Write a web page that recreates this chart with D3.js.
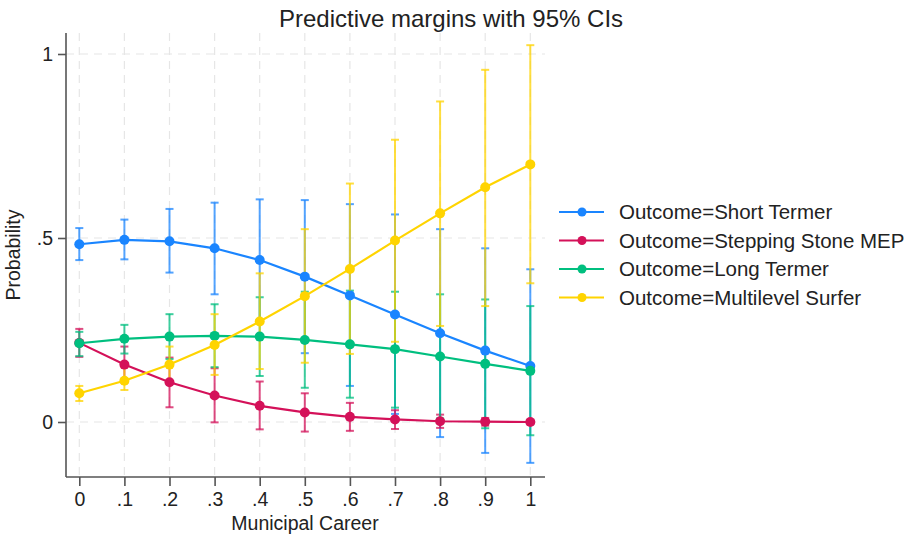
<!DOCTYPE html>
<html>
<head>
<meta charset="utf-8">
<script src="https://cdn.jsdelivr.net/npm/d3@7"></script>
<style>
  body { margin: 0; background: #fff; }
  text { font-family: "Liberation Sans", Arial, sans-serif; fill: #222; }
</style>
</head>
<body>
<div id="chart"></div>
<script>
// x values (Municipal Career)
var xs = [0, .1, .2, .3, .4, .5, .6, .7, .8, .9, 1];
var xTickLabels = ["0", ".1", ".2", ".3", ".4", ".5", ".6", ".7", ".8", ".9", "1"];
var yTicks = [0, .5, 1];
var yTickLabels = ["0", ".5", "1"];

var seriesNames = ["Outcome=Short Termer", "Outcome=Stepping Stone MEP", "Outcome=Long Termer", "Outcome=Multilevel Surfer"];
var seriesColors = ["#1a85ff", "#d41159", "#00bf7f", "#ffd400"];

// point estimates
var shortTermer   = [0.483, 0.495, 0.491, 0.472, 0.440, 0.395, 0.344, 0.292, 0.241, 0.194, 0.152];
var steppingStone = [0.215, 0.156, 0.108, 0.072, 0.044, 0.026, 0.014, 0.007, 0.002, 0.001, 0.000];
var longTermer    = [0.214, 0.226, 0.232, 0.234, 0.232, 0.223, 0.211, 0.198, 0.178, 0.158, 0.139];
var multiSurfer   = [0.078, 0.112, 0.156, 0.209, 0.273, 0.342, 0.416, 0.493, 0.567, 0.638, 0.700];

// 95% CI bounds
var shortLo = [0.440, 0.442, 0.406, 0.347, 0.276, 0.187, 0.098, 0.022, -0.041, -0.084, -0.111];
var shortHi = [0.527, 0.550, 0.579, 0.596, 0.605, 0.603, 0.592, 0.564, 0.524, 0.472, 0.415];
var stepLo  = [0.177, 0.107, 0.040, -0.001, -0.020, -0.026, -0.024, -0.019, -0.016, -0.010, -0.006];
var stepHi  = [0.253, 0.205, 0.175, 0.146, 0.110, 0.078, 0.052, 0.032, 0.020, 0.011, 0.006];
var longLo  = [0.179, 0.186, 0.171, 0.149, 0.125, 0.093, 0.066, 0.039, 0.010, -0.017, -0.036];
var longHi  = [0.245, 0.264, 0.293, 0.320, 0.339, 0.354, 0.357, 0.354, 0.347, 0.333, 0.315];
var multiLo = [0.057, 0.087, 0.107, 0.128, 0.144, 0.161, 0.185, 0.218, 0.261, 0.315, 0.377];
var multiHi = [0.098, 0.149, 0.205, 0.293, 0.404, 0.524, 0.648, 0.767, 0.871, 0.957, 1.024];

var estimates = [shortTermer, steppingStone, longTermer, multiSurfer];
var lows = [shortLo, stepLo, longLo, multiLo];
var highs = [shortHi, stepHi, longHi, multiHi];

var width = 905, height = 539;
var svg = d3.select("#chart").append("svg")
    .attr("width", width)
    .attr("height", height);

var xScale = d3.scaleLinear().domain([0, 1]).range([79.3, 530.3]);
var yScale = d3.scaleLinear().domain([0, 1]).range([422, 54]);

var plotLeft = 66, plotRight = 545, plotTop = 33, plotBottom = 477;

// grid
svg.append("g").selectAll("line")
    .data(xs).enter().append("line")
    .attr("x1", function(d) { return xScale(d); })
    .attr("x2", function(d) { return xScale(d); })
    .attr("y1", plotTop).attr("y2", plotBottom)
    .attr("stroke", "#e6e6e6").attr("stroke-width", 1.2)
    .attr("stroke-dasharray", "8,6");
svg.append("g").selectAll("line")
    .data(yTicks).enter().append("line")
    .attr("x1", plotLeft).attr("x2", plotRight)
    .attr("y1", function(d) { return yScale(d); })
    .attr("y2", function(d) { return yScale(d); })
    .attr("stroke", "#e6e6e6").attr("stroke-width", 1.2)
    .attr("stroke-dasharray", "8,6");

// axes
var xAxis = d3.axisBottom(xScale).tickValues(xs)
    .tickFormat(function(d, i) { return xTickLabels[i]; })
    .tickSize(9).tickSizeOuter(0).tickPadding(6);
var gx = svg.append("g")
    .attr("transform", "translate(0," + plotBottom + ")")
    .call(xAxis);
gx.select(".domain").attr("d", "M" + plotLeft + ",0H" + plotRight);

var yAxis = d3.axisLeft(yScale).tickValues(yTicks)
    .tickFormat(function(d, i) { return yTickLabels[i]; })
    .tickSize(8).tickSizeOuter(0).tickPadding(5);
var gy = svg.append("g")
    .attr("transform", "translate(" + plotLeft + ",0)")
    .call(yAxis);
gy.select(".domain").attr("d", "M0," + plotTop + "V" + plotBottom);

svg.selectAll(".domain").attr("stroke", "#555").attr("stroke-width", 1.6);
svg.selectAll(".tick line").attr("stroke", "#555").attr("stroke-width", 1.6);
svg.selectAll(".tick text").attr("font-size", 19.5).attr("fill", "#222")
    .style("font-family", "Liberation Sans, Arial, sans-serif");

// series
var line = d3.line()
    .x(function(d, i) { return xScale(xs[i]); })
    .y(function(d) { return yScale(d); });

estimates.forEach(function(est, s) {
    var g = svg.append("g");
    var c = seriesColors[s];
    // CI bars
    xs.forEach(function(x, i) {
        var cx = xScale(x);
        g.append("line")
            .attr("x1", cx).attr("x2", cx)
            .attr("y1", yScale(lows[s][i])).attr("y2", yScale(highs[s][i]))
            .attr("stroke", c).attr("stroke-width", 2).attr("opacity", 0.75);
        [lows[s][i], highs[s][i]].forEach(function(v) {
            g.append("line")
                .attr("x1", cx - 4).attr("x2", cx + 4)
                .attr("y1", yScale(v)).attr("y2", yScale(v))
                .attr("stroke", c).attr("stroke-width", 2).attr("opacity", 0.75);
        });
    });
});

estimates.forEach(function(est, s) {
    var g = svg.append("g");
    var c = seriesColors[s];
    g.append("path")
        .attr("d", line(est))
        .attr("fill", "none")
        .attr("stroke", c).attr("stroke-width", 2.2);
    g.selectAll("circle")
        .data(est).enter().append("circle")
        .attr("cx", function(d, i) { return xScale(xs[i]); })
        .attr("cy", function(d) { return yScale(d); })
        .attr("r", 5)
        .attr("fill", c);
});

// title and axis labels
svg.append("text")
    .attr("x", 451).attr("y", 27)
    .attr("text-anchor", "middle")
    .attr("font-size", 24)
    .text("Predictive margins with 95% CIs");

svg.append("text")
    .attr("x", 305).attr("y", 530)
    .attr("text-anchor", "middle")
    .attr("font-size", 19.5)
    .text("Municipal Career");

svg.append("text")
    .attr("transform", "translate(20,255) rotate(-90)")
    .attr("text-anchor", "middle")
    .attr("font-size", 19.5)
    .text("Probability");

// legend
var legend = svg.append("g");
seriesNames.forEach(function(name, i) {
    var ly = 212 + i * 28.5;
    legend.append("line")
        .attr("x1", 559).attr("x2", 604)
        .attr("y1", ly).attr("y2", ly)
        .attr("stroke", seriesColors[i]).attr("stroke-width", 2.2);
    legend.append("circle")
        .attr("cx", 582).attr("cy", ly).attr("r", 4.5)
        .attr("fill", seriesColors[i]);
    legend.append("text")
        .attr("x", 619).attr("y", ly + 7)
        .attr("font-size", 20.5)
        .text(name);
});
</script>
</body>
</html>
